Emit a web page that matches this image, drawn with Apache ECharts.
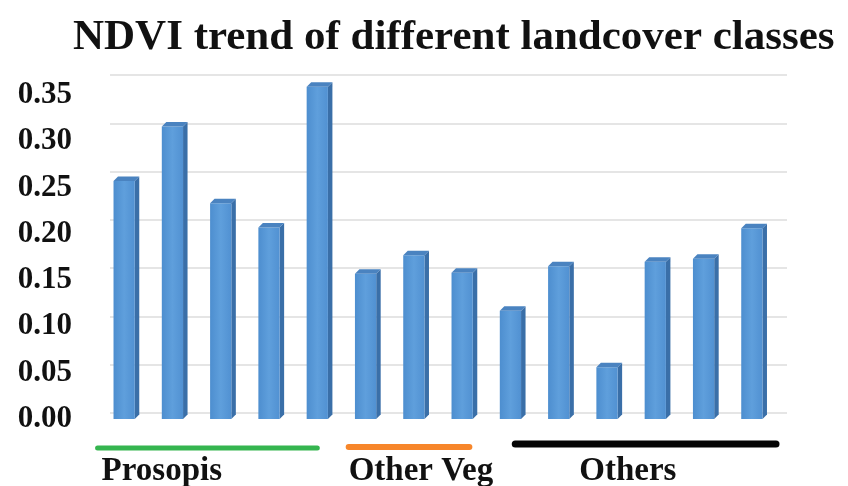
<!DOCTYPE html>
<html>
<head>
<meta charset="utf-8">
<script src="https://cdn.jsdelivr.net/npm/echarts@6/dist/echarts.min.js"></script>
<style>
  html, body { margin: 0; padding: 0; background: #ffffff; }
  #chart { width: 848px; height: 486px; }
</style>
</head>
<body>
<div id="chart"></div>
<script>
// ---- data ----
const categories = ['P1', 'P2', 'P3', 'P4', 'P5', 'V1', 'V2', 'V3', 'O1', 'O2', 'O3', 'O4', 'O5', 'O6'];
const ndviValues = [0.257, 0.316, 0.233, 0.207, 0.359, 0.157, 0.177, 0.158, 0.117, 0.165, 0.056, 0.170, 0.173, 0.206];
const yTicks = [0, 0.05, 0.10, 0.15, 0.20, 0.25, 0.30, 0.35];
const groupNames = ['Prosopis', 'Other Veg', 'Others'];
const groupFirst = [0, 5, 8];
const groupLast = [4, 7, 13];

// ---- styling (not data) ----
const groupColors = ['#35b54f', '#f7862a', '#050505'];
const groupWidths = [5, 6, 7];
const groupLineDy = [29, 28, 25];
// line extents relative to first/last category centre, in bands
const groupLineStart = [-0.55, -0.35, 0.1];
const groupLineEnd = [0.0, 0.15, 0.5];
const groupTextDx = [4, 0, 64];

const serif = '"Liberation Serif", "Times New Roman", serif';
const chart = echarts.init(document.getElementById('chart'), null, { renderer: 'canvas' });

const barData = ndviValues.map((v, i) => [i, v]);
const groupData = groupNames.map((n, i) => [groupFirst[i], groupLast[i], i]);

function renderBar(params, api) {
  const idx = api.value(0);
  const top = api.coord([idx, api.value(1)]);
  const base = api.coord([idx, 0]);
  const band = api.size([1, 0])[0];
  const w = band * 0.44;
  const d = 4.5;
  const x0 = top[0] - w / 2;
  return {
    type: 'group',
    children: [
      {
        type: 'polygon',
        shape: { points: [[x0 + w, top[1]], [x0 + w + d, top[1] - d], [x0 + w + d, base[1] - d], [x0 + w, base[1]]] },
        style: { fill: '#3a6fa8' }
      },
      {
        type: 'rect',
        shape: { x: x0, y: top[1], width: w, height: base[1] - top[1] },
        style: {
          fill: new echarts.graphic.LinearGradient(0, 0, 1, 0, [
            { offset: 0, color: '#4d8ecf' },
            { offset: 0.5, color: '#5f9fdc' },
            { offset: 1, color: '#5191d2' }
          ])
        }
      },
      {
        type: 'polygon',
        shape: { points: [[x0, top[1]], [x0 + d, top[1] - d], [x0 + w + d, top[1] - d], [x0 + w, top[1]]] },
        style: { fill: '#4a83c0' }
      }
    ]
  };
}

function renderGroup(params, api) {
  const gi = api.value(2);
  const band = api.size([1, 0])[0];
  const a = api.coord([api.value(0), 0]);
  const b = api.coord([api.value(1), 0]);
  const xs = a[0] + groupLineStart[gi] * band;
  const xe = b[0] + groupLineEnd[gi] * band;
  const yLine = a[1] + groupLineDy[gi];
  return {
    type: 'group',
    children: [
      {
        type: 'line',
        shape: { x1: xs, y1: yLine, x2: xe, y2: yLine },
        style: { stroke: groupColors[gi], lineWidth: groupWidths[gi], lineCap: 'round' }
      },
      {
        type: 'text',
        style: {
          x: xs + groupTextDx[gi],
          y: a[1] + 52,
          text: groupNames[gi],
          fill: '#111',
          font: 'bold 33px ' + serif,
          align: 'left',
          verticalAlign: 'middle'
        }
      }
    ]
  };
}

chart.setOption({
  backgroundColor: '#ffffff',
  animation: false,
  title: {
    text: 'NDVI trend of different landcover classes',
    left: 68,
    top: 11,
    textStyle: { fontFamily: serif, fontWeight: 'bold', fontSize: 43, color: '#111' }
  },
  grid: [
    { left: 100, right: 72, top: 95, bottom: 67 },
    { left: 110, right: 61, top: 75, bottom: 73 }
  ],
  xAxis: [
    {
      gridIndex: 0, type: 'category', data: categories,
      axisLine: { show: false }, axisTick: { show: false }, axisLabel: { show: false }
    },
    {
      gridIndex: 1, type: 'value', min: 0, max: 1, show: false
    }
  ],
  yAxis: [
    {
      gridIndex: 0, type: 'value', min: yTicks[0], max: yTicks[yTicks.length - 1], interval: 0.05,
      axisLine: { show: false }, axisTick: { show: false }, splitLine: { show: false },
      axisLabel: {
        margin: 28,
        formatter: v => v.toFixed(2),
        fontFamily: serif, fontWeight: 'bold', fontSize: 31, color: '#111'
      }
    },
    {
      gridIndex: 1, type: 'value', min: yTicks[0], max: yTicks[yTicks.length - 1], interval: 0.05,
      axisLine: { show: false }, axisTick: { show: false }, axisLabel: { show: false },
      splitLine: { show: true, lineStyle: { color: '#dcdcdc', width: 1.5 } }
    }
  ],
  series: [
    {
      type: 'custom', name: 'NDVI', xAxisIndex: 0, yAxisIndex: 0,
      renderItem: renderBar, data: barData, encode: { x: 0, y: 1 }, clip: false, z: 3
    },
    {
      type: 'custom', name: 'Groups', xAxisIndex: 0, yAxisIndex: 0,
      renderItem: renderGroup, data: groupData, encode: { x: [0, 1] }, clip: false, z: 4
    }
  ]
});
</script>
</body>
</html>
